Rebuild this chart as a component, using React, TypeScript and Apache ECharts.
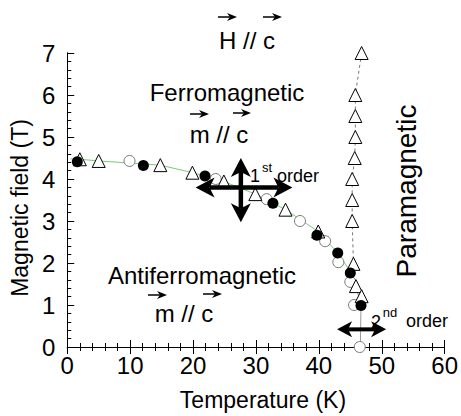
import React, { useEffect, useRef } from "react";
import * as echarts from "echarts";

// Temperature (K) / Magnetic field (T)
const filledT = [1.6, 12.1, 21.9, 32.7, 39.7, 43.0, 45.0, 46.7];
const filledH = [4.41, 4.32, 4.07, 3.42, 2.66, 2.24, 1.76, 0.99];

const openT = [9.9, 23.6, 31.7, 37.0, 41.0, 43.1, 45.0, 45.6, 46.5];
const openH = [4.43, 4.0, 3.52, 3.0, 2.52, 2.02, 1.55, 1.0, 0.0];

const triT = [2.0, 5.0, 14.8, 19.9, 24.9, 29.9, 34.7, 39.9, 45.5, 45.9, 46.8];
const triH = [4.47, 4.43, 4.33, 4.15, 3.94, 3.64, 3.27, 2.75, 1.98, 1.45, 1.21];

const colT = [46.8, 45.8, 45.8, 45.8, 45.7, 45.3, 45.3, 45.3];
const colH = [7.0, 6.0, 5.5, 5.0, 4.5, 4.0, 3.5, 3.0];

const dashT = [46.8, 45.8, 45.8, 45.8, 45.7, 45.3, 45.3, 45.3, 45.5];
const dashH = [7.0, 6.0, 5.5, 5.0, 4.5, 4.0, 3.5, 3.0, 1.98];

const greenT = [0.5, 2.0, 5.0, 14.8, 19.9, 24.9, 29.9, 34.7, 39.9, 43.0, 45.0];
const greenH = [4.48, 4.47, 4.43, 4.33, 4.15, 3.94, 3.64, 3.27, 2.75, 2.24, 1.8];

const grayT = [45.0, 45.9, 46.7, 46.6];
const grayH = [1.8, 1.45, 0.99, 0.0];

// double-headed arrows, tip to tip: [T1, H1, T2, H2]
const firstOrderArrows = [
  [20.4, 3.8, 35.8, 3.8],
  [27.6, 4.5, 27.6, 2.97],
];
const secondOrderArrows = [[42.9, 0.42, 50.7, 0.42]];

const xTicks = [0, 10, 20, 30, 40, 50, 60];
const yTicks = [0, 1, 2, 3, 4, 5, 6, 7];

const FONT = "'Liberation Sans', Arial, Helvetica, sans-serif";

const zip = (a: number[], b: number[]) => a.map((v, i) => [v, b[i]]);

const vec = (x: number, y: number, w: number) => ({
  type: "group",
  children: [
    { type: "line", shape: { x1: x, y1: y, x2: x + w - 6, y2: y }, style: { stroke: "#000", lineWidth: 1.5 } },
    {
      type: "polygon",
      shape: { points: [[x + w - 10, y - 4], [x + w, y], [x + w - 10, y + 4], [x + w - 7, y]] },
      style: { fill: "#000" },
    },
  ],
});

const txt = (text: string, x: number, y: number, size: number, extra: any = {}) => ({
  type: "text",
  x,
  y,
  ...extra,
  style: { text, x: 0, y: 0, fontSize: size, fontFamily: FONT, fill: "#000", align: "center", verticalAlign: "middle" },
});

const arrowRenderer = (L: number, W: number, w: number, notch: number) => (params: any, api: any) => {
  const p1 = api.coord([api.value(0), api.value(1)]);
  const p2 = api.coord([api.value(2), api.value(3)]);
  const dx = p2[0] - p1[0];
  const dy = p2[1] - p1[1];
  const len = Math.sqrt(dx * dx + dy * dy) || 1;
  const ux = dx / len;
  const uy = dy / len;
  const nx = -uy;
  const ny = ux;
  const head = (tip: number[], s: number) => ({
    type: "polygon",
    shape: {
      points: [
        tip,
        [tip[0] + s * ux * L + nx * W / 2, tip[1] + s * uy * L + ny * W / 2],
        [tip[0] + s * ux * (L - notch), tip[1] + s * uy * (L - notch)],
        [tip[0] + s * ux * L - nx * W / 2, tip[1] + s * uy * L - ny * W / 2],
      ],
    },
    style: { fill: "#000" },
  });
  return {
    type: "group",
    children: [
      {
        type: "line",
        shape: {
          x1: p1[0] + ux * (L - notch),
          y1: p1[1] + uy * (L - notch),
          x2: p2[0] - ux * (L - notch),
          y2: p2[1] - uy * (L - notch),
        },
        style: { stroke: "#000", lineWidth: w },
      },
      head(p1, 1),
      head(p2, -1),
    ],
  };
};

export default function App() {
  const ref = useRef<HTMLDivElement>(null);
  useEffect(() => {
    document.body.style.margin = "0";
    const chart = echarts.init(ref.current!, null, { renderer: "svg" });
    const tickStyle = { show: true, inside: true, length: 7, lineStyle: { color: "#000", width: 1 } };
    const minorStyle = { show: true, splitNumber: 5, length: 4, lineStyle: { color: "#000", width: 1 } };
    chart.setOption({
      animation: false,
      backgroundColor: "#fff",
      grid: { left: 65, right: 14, top: 53, bottom: 63 },
      xAxis: [
        {
          type: "value",
          min: 0,
          max: 60,
          interval: 10,
          name: "Temperature (K)",
          nameLocation: "middle",
          nameGap: 41,
          nameTextStyle: { fontSize: 23, fontFamily: FONT, color: "#000", padding: [0, 0, 0, 14] },
          axisLine: { lineStyle: { color: "#000", width: 1 } },
          axisTick: tickStyle,
          minorTick: minorStyle,
          splitLine: { show: false },
          axisLabel: {
            fontSize: 24,
            fontFamily: FONT,
            color: "#000",
            margin: 6,
            formatter: (v: number) => (xTicks.includes(v) ? String(v) : ""),
          },
        },
        {
          type: "value",
          position: "top",
          min: 0,
          max: 60,
          interval: 10,
          axisLine: { show: true, lineStyle: { color: "#000", width: 1 } },
          axisTick: tickStyle,
          minorTick: minorStyle,
          splitLine: { show: false },
          axisLabel: { show: false },
        },
      ],
      yAxis: [
        {
          type: "value",
          min: 0,
          max: 7,
          interval: 1,
          name: "Magnetic field (T)",
          nameLocation: "middle",
          nameGap: 31,
          nameTextStyle: { fontSize: 23, fontFamily: FONT, color: "#000", padding: [0, 16, 0, 0] },
          axisLine: { show: true, lineStyle: { color: "#000", width: 1 } },
          axisTick: tickStyle,
          minorTick: minorStyle,
          splitLine: { show: false },
          axisLabel: {
            fontSize: 24,
            fontFamily: FONT,
            color: "#000",
            margin: 12,
            formatter: (v: number) => (yTicks.includes(v) ? String(v) : ""),
          },
        },
        {
          type: "value",
          position: "right",
          min: 0,
          max: 7,
          interval: 1,
          axisLine: { show: true, lineStyle: { color: "#000", width: 1 } },
          axisTick: { show: false },
          splitLine: { show: false },
          axisLabel: { show: false },
        },
      ],
      series: [
        {
          type: "line",
          data: zip(greenT, greenH),
          symbol: "none",
          lineStyle: { color: "#7cc97c", width: 1 },
          z: 1,
        },
        {
          type: "line",
          data: zip(grayT, grayH),
          symbol: "none",
          lineStyle: { color: "#999", width: 1 },
          z: 1,
        },
        {
          type: "line",
          data: zip(dashT, dashH),
          symbol: "none",
          lineStyle: { color: "#777", width: 1, type: [3, 3] },
          z: 1,
        },
        {
          type: "scatter",
          data: zip(openT, openH),
          symbol: "circle",
          symbolSize: 11,
          itemStyle: { color: "#fff", borderColor: "#777", borderWidth: 1, opacity: 1 },
          z: 2,
        },
        {
          type: "scatter",
          data: zip(triT, triH).concat(zip(colT, colH)),
          symbol: "triangle",
          symbolSize: 13,
          itemStyle: { color: "#fff", borderColor: "#000", borderWidth: 1, opacity: 1 },
          z: 3,
        },
        {
          type: "scatter",
          data: zip(filledT, filledH),
          symbol: "circle",
          symbolSize: 11,
          itemStyle: { color: "#000", opacity: 1 },
          z: 4,
        },
        {
          type: "custom",
          data: firstOrderArrows,
          encode: { x: [0, 2], y: [1, 3] },
          renderItem: arrowRenderer(19, 20, 4.5, 5),
          z: 5,
        },
        {
          type: "custom",
          data: secondOrderArrows,
          encode: { x: [0, 2], y: [1, 3] },
          renderItem: arrowRenderer(15, 16, 4, 4),
          clip: false,
          z: 5,
        },
      ],
      graphic: [
        txt("H // c", 247, 40, 24),
        vec(218, 17, 19),
        vec(263, 17, 19),
        txt("Ferromagnetic", 227, 92, 24),
        txt("m // c", 219, 134, 24),
        vec(190, 114, 19),
        vec(233, 113, 18),
        txt("Antiferromagnetic", 202, 275, 24),
        txt("m // c", 184, 313, 24),
        vec(148, 295, 19),
        vec(203, 294, 19),
        txt("Paramagnetic", 406, 191, 28, { rotation: Math.PI / 2 }),
        txt("1", 255, 176, 18),
        txt("st", 267, 167, 13),
        txt("order", 298, 176, 18),
        txt("2", 376, 322, 18),
        txt("nd", 390, 312, 13),
        txt("order", 427, 321, 18),
      ],
    });
    return () => chart.dispose();
  }, []);
  return <div ref={ref} style={{ width: 461, height: 416 }} />;
}
